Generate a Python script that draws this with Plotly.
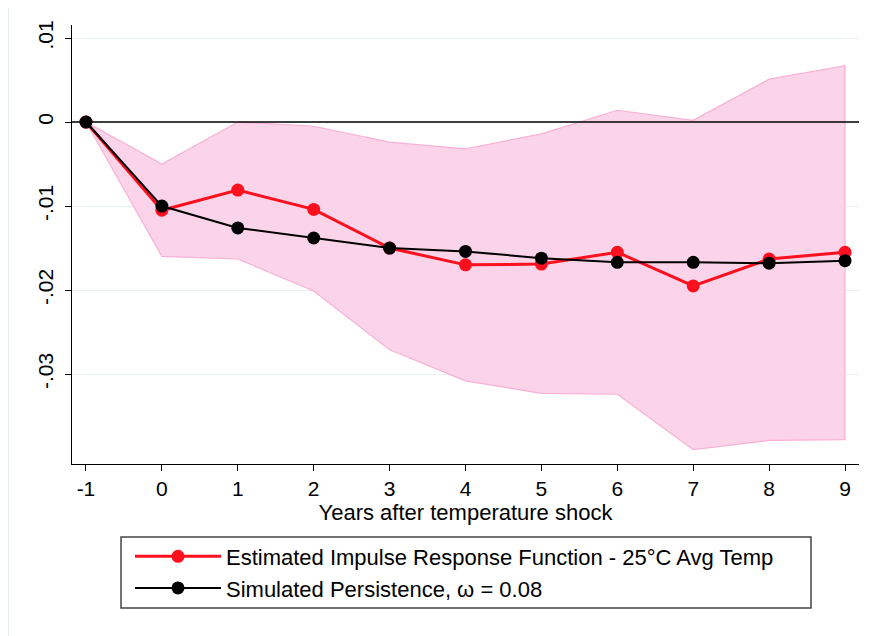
import plotly.graph_objects as go

# Data
years = [-1, 0, 1, 2, 3, 4, 5, 6, 7, 8, 9]
irf = [0, -0.0105, -0.0081, -0.0104, -0.0150, -0.0170, -0.0169, -0.0155, -0.0195, -0.0163, -0.0155]
simulated = [0, -0.0100, -0.0126, -0.0138, -0.0150, -0.0154, -0.0162, -0.0167, -0.0167, -0.0168, -0.0165]
ci_upper = [0, -0.0050, 0.0000, -0.0005, -0.0024, -0.0032, -0.0014, 0.0014, 0.0002, 0.0051, 0.0067]
ci_lower = [0, -0.0160, -0.0163, -0.0201, -0.0271, -0.0308, -0.0323, -0.0324, -0.0390, -0.0379, -0.0378]

y_ticks = [0.01, 0, -0.01, -0.02, -0.03]
y_labels = ['.01', '0', '-.01', '-.02', '-.03']
x_ticks = list(range(-1, 10))
x_labels = ['-1', '0', '1', '2', '3', '4', '5', '6', '7', '8', '9']

FONT = 'Liberation Sans, Arial, Helvetica, sans-serif'

fig = go.Figure()

# Confidence band as a closed polygon
fig.add_trace(go.Scatter(
    x=years + years[::-1],
    y=ci_upper + ci_lower[::-1],
    fill='toself',
    fillcolor='rgba(252,212,234,1)',
    line=dict(color='rgb(249,176,212)', width=1.2),
    mode='lines',
    hoverinfo='skip',
    showlegend=False,
))

fig.add_hline(y=0, line=dict(color='black', width=1.5))

fig.add_trace(go.Scatter(
    x=years, y=irf,
    mode='lines+markers',
    name='Estimated Impulse Response Function - 25°C Avg Temp',
    line=dict(color='rgb(255,16,30)', width=3),
    marker=dict(color='rgb(255,16,30)', size=13),
))

fig.add_trace(go.Scatter(
    x=years, y=simulated,
    mode='lines+markers',
    name='Simulated Persistence, ω = 0.08',
    line=dict(color='black', width=2),
    marker=dict(color='black', size=13),
))

# Legend frame and outer graph frame (Stata style)
fig.add_shape(type='rect', xref='paper', yref='paper',
              x0=0.0623, x1=0.939, y0=-0.1663, y1=-0.328,
              line=dict(color='#444', width=1.5), fillcolor='rgba(0,0,0,0)')
fig.add_shape(type='line', xref='paper', yref='paper',
              x0=-0.0813, x1=-0.0813, y0=1.06, y1=-0.45,
              line=dict(color='#e6edf2', width=2))

fig.update_layout(
    width=870, height=636,
    margin=dict(l=64, r=19, t=17, b=180),
    paper_bgcolor='white',
    plot_bgcolor='white',
    font=dict(family=FONT, size=21, color='black'),
    legend=dict(
        x=0.0737, xanchor='left',
        y=-0.163, yanchor='top',
        bgcolor='rgba(0,0,0,0)',
        itemwidth=86,
        tracegroupgap=0,
        font=dict(size=22),
    ),
    xaxis=dict(
        range=[-1.184, 9.184],
        tickvals=x_ticks,
        ticktext=x_labels,
        showgrid=False,
        zeroline=False,
        showline=True, linecolor='black', linewidth=1.2,
        ticks='outside', ticklen=6, tickcolor='black',
        tickfont=dict(size=21),
        automargin=False,
        title=dict(text='Years after temperature shock', standoff=2, font=dict(size=22)),
    ),
    yaxis=dict(
        range=[-0.0407, 0.01155],
        tickvals=y_ticks,
        ticktext=y_labels,
        tickangle=-90,
        tickfont=dict(size=21),
        showgrid=True, gridcolor='#e8eff3', gridwidth=1,
        zeroline=False,
        showline=True, linecolor='black', linewidth=1.2,
        ticks='outside', ticklen=6, tickcolor='black',
        ticklabelstandoff=4,
        automargin=False,
    ),
)

fig.write_html('out.html')
